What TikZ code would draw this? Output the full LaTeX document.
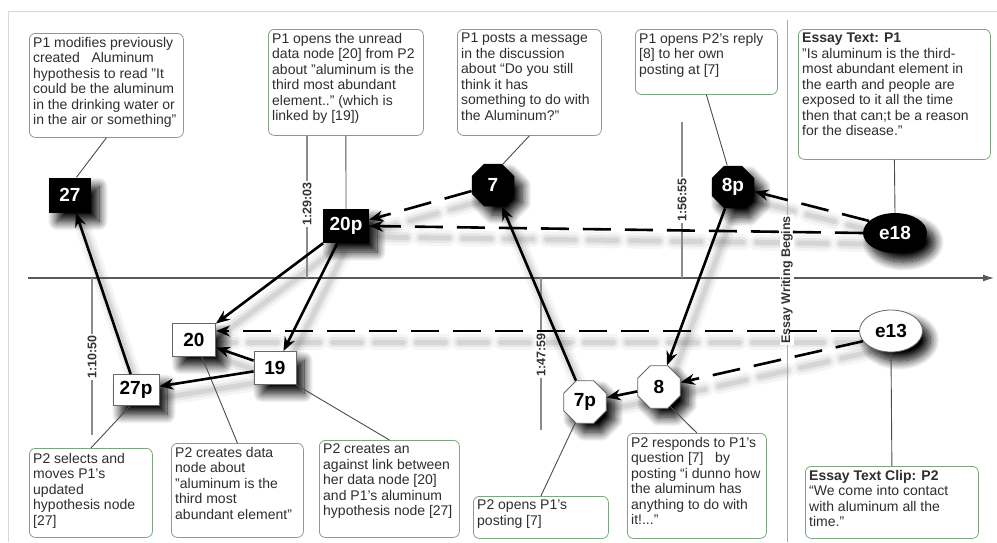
\documentclass[tikz,border=0pt]{standalone}
\usepackage{fontspec}
\setmainfont{Liberation Sans}
\usetikzlibrary{arrows.meta,shapes.geometric,shadows.blur,calc}
\pgfdeclarelayer{bg}
\pgfsetlayers{bg,main}

% connector with a soft shadow drawn underneath
\newcommand\conn[3]{%
  \begin{pgfonlayer}{bg}%
    \draw[#1,cshadow,line width=16pt,draw opacity=0.04] #2 -- #3;%
    \draw[#1,cshadow,line width=10pt,draw opacity=0.06] #2 -- #3;%
    \draw[#1,cshadow,line width=5pt,draw opacity=0.08] #2 -- #3;%
  \end{pgfonlayer}%
  \draw[#1] #2 -- #3;}

\begin{document}
\begin{tikzpicture}[x=1pt,y=-1pt,
  font=\fontsize{14}{15.5}\selectfont,
  frame/.style={draw=black!15, line width=0.9pt},
  axis/.style={draw=black!65, line width=1.3pt, -{Latex[length=11pt,width=7pt]}},
  tickline/.style={draw=black!45, line width=1.4pt},
  ticklabel/.style={rotate=90, fill=white, inner sep=1pt, text=black!80,
    font=\bfseries\fontsize{12.5}{13}\selectfont},
  essayline/.style={draw={rgb,255:red,200;green,155;blue,165}, line width=1pt},
  memo/.style={draw={rgb,255:red,125;green,165;blue,125}, line width=0.8pt,
    rounded corners=6pt, anchor=north west, inner sep=0pt, fill=white},
  memotext/.style={anchor=north west, align=left, inner sep=0pt, text=black!82},
  nshadow/.style={blur shadow={shadow xshift=8pt, shadow yshift=-9pt,
    shadow blur radius=9pt, shadow blur steps=14, shadow opacity=100}},
  lbl/.style={font=\bfseries\fontsize{19}{20}\selectfont, inner sep=0pt},
  dark/.style={lbl, fill=black, text=white, nshadow},
  light/.style={lbl, fill=white, draw=black!60, line width=0.8pt, text=black, nshadow},
  sq/.style={rectangle},
  oct/.style={regular polygon, regular polygon sides=8, minimum size=46pt},
  ell/.style={ellipse},
  link/.style={draw=black, line width=2.6pt, -{Stealth[length=14pt,width=11pt]}},
  dlink/.style={link, dash pattern=on 28pt off 14pt},
  cshadow/.style={draw=black, arrows=-, line cap=round,
    transform canvas={xshift=6pt,yshift=-11pt}},
  callout/.style={draw=black!70, line width=0.9pt}]

\useasboundingbox (0,0) rectangle (997,542);

% page frame
\draw[frame] (8,542) -- (8,11) -- (997,11);

% time axis
\coordinate (ax0) at (28,278);
\coordinate (ax1) at (994,278);
\draw[axis] (ax0) -- (ax1);

% time marks
\coordinate (k1a) at (92,278);  \coordinate (k1b) at (92,435);
\coordinate (k2a) at (307,135); \coordinate (k2b) at (307,278);
\coordinate (k3a) at (541,278); \coordinate (k3b) at (541,430);
\coordinate (k4a) at (682,122); \coordinate (k4b) at (682,278);
\draw[tickline] (k1a) -- (k1b);
\draw[tickline] (k2a) -- (k2b);
\draw[tickline] (k3a) -- (k3b);
\draw[tickline] (k4a) -- (k4b);
\node[ticklabel] (t1) at (92,357) {1:10:50};
\node[ticklabel] (t2) at (307,204) {1:29:03};
\node[ticklabel] (t3) at (541,355) {1:47:59};
\node[ticklabel] (t4) at (682,200) {1:56:55};

% start of essay writing
\coordinate (ew0) at (787,20);
\coordinate (ew1) at (787,542);
\draw[essayline] (ew0) -- (ew1);
\node[ticklabel] (ew) at (787,280) {Essay Writing Begins};

% annotation boxes, top row
\node[memo, minimum width=154pt, minimum height=104pt] (b1) at (29,33) {};
\node[memotext] (b1t) at ($(b1.north west)+(4,4)$) {P1 modifies previously\\created \ \ Aluminum\\hypothesis to read "It\\could be the aluminum\\in the drinking water or\\in the air or something"};

\node[memo, minimum width=155pt, minimum height=106pt] (b2) at (268,29) {};
\node[memotext] (b2t) at ($(b2.north west)+(4,4)$) {P1 opens the unread\\data node [20] from P2\\about "aluminum is the\\third most abundant\\element.." (which is\\linked by [19])};

\node[memo, minimum width=144pt, minimum height=106pt] (b3) at (457,29) {};
\node[memotext] (b3t) at ($(b3.north west)+(4,4)$) {P1 posts a message\\in the discussion\\about “Do you still\\think it has\\something to do with\\the Aluminum?"};

\node[memo, minimum width=142pt, minimum height=65pt] (b4) at (635,29) {};
\node[memotext] (b4t) at ($(b4.north west)+(4,4)$) {P1 opens P2's reply\\{[8]} to her own\\posting at [7]};

\node[memo, minimum width=192pt, minimum height=130pt] (b5) at (798,29) {};
\node[memotext] (b5t) at ($(b5.north west)+(4,4)$) {\textbf{Essay Text: P1}\\"Is aluminum is the third-\\most abundant element in\\the earth and people are\\exposed to it all the time\\then that can;t be a reason\\for the disease."};

% annotation boxes, bottom row
\node[memo, minimum width=123pt, minimum height=89pt] (c1) at (29,448) {};
\node[memotext] (c1t) at ($(c1.north west)+(4,5)$) {P2 selects and\\moves P1's\\updated\\hypothesis node\\{[27]}};

\node[memo, minimum width=132pt, minimum height=94pt] (c2) at (171,443) {};
\node[memotext] (c2t) at ($(c2.north west)+(4,4)$) {P2 creates data\\node about\\"aluminum is the\\third most\\abundant element"};

\node[memo, minimum width=140pt, minimum height=97pt] (c3) at (319,440) {};
\node[memotext] (c3t) at ($(c3.north west)+(4,4)$) {P2 creates an\\against link between\\her data node [20]\\and P1's aluminum\\hypothesis node [27]};

\node[memo, minimum width=135pt, minimum height=42pt] (c4) at (473,496) {};
\node[memotext] (c4t) at ($(c4.north west)+(4,4)$) {P2 opens P1's\\posting [7]};

\node[memo, minimum width=139pt, minimum height=105pt] (c5) at (627,433) {};
\node[memotext] (c5t) at ($(c5.north west)+(4,4)$) {P2 responds to P1's\\question [7] \ \ by\\posting “i dunno how\\the aluminum has\\anything to do with\\it!..."};

\node[memo, minimum width=173pt, minimum height=72pt] (c6) at (805,466) {};
\node[memotext] (c6t) at ($(c6.north west)+(4,4)$) {\textbf{Essay Text Clip: P2}\\“We come into contact\\with aluminum all the\\time."};

% events of P1 (dark) and P2 (light)
\node[dark, sq, minimum width=42pt, minimum height=35pt] (n27) at (70,195) {27};
\node[dark, sq, minimum width=46pt, minimum height=34pt] (n20p) at (346,226) {20p};
\node[dark, oct] (n7) at (493,185) {7};
\node[dark, oct] (n8p) at (733,187) {8p};
\node[dark, ell, minimum width=64pt, minimum height=40pt] (e18) at (895,233) {e18};

\node[light, sq, minimum width=43pt, minimum height=33pt] (n20) at (194,340) {20};
\node[light, sq, minimum width=42pt, minimum height=33pt] (n19) at (275,368) {19};
\node[light, sq, minimum width=46pt, minimum height=31pt] (n27p) at (136,390) {27p};
\node[light, oct] (n7p) at (585,402) {7p};
\node[light, oct] (n8) at (659,387) {8};
\node[light, ell, minimum width=63pt, minimum height=42pt] (e13) at (891,331) {e13};

% callouts from the boxes to their events
\draw[callout] (b1.south) -- (n27.70);
\draw[callout] (b2.south) -- (n20p.north);
\draw[callout] (b3.south) -- (n7.65);
\draw[callout] (b4.south) -- (n8p.105);
\draw[callout] (b5.south) -- (e18.north);
\draw[callout] (c1.north) -- (n27p.250);
\draw[callout] (c2.north) -- (n20.-65);
\draw[callout] (c3.north) -- (n19.south east);
\draw[callout] (c4.north) -- (n7p.245);
\draw[callout] (c5.north) -- (n8.-60);
\draw[callout] (c6.north) -- (e13.south);

% solid links
\conn{link}{(n27p)}{(n27)}
\conn{link}{(n20p)}{(n20)}
\conn{link}{(n20p)}{(n19)}
\conn{link}{(n19)}{(n20)}
\conn{link}{(n19)}{(n27p)}
\conn{link}{(n7p)}{(n7)}
\conn{link}{(n8p)}{(n8)}
\conn{link}{(n8)}{(n7p)}

% dashed links from the essay texts and the posting
\conn{dlink}{(n7)}{(n20p.15)}
\conn{dlink}{(e18.west)}{(n20p.east)}
\conn{dlink}{(e18.155)}{(n8p.-12)}
\conn{dlink}{(e13.west)}{(n20.east |- e13.west)}
\conn{dlink}{(e13.200)}{(n8.12)}

\end{tikzpicture}
\end{document}
